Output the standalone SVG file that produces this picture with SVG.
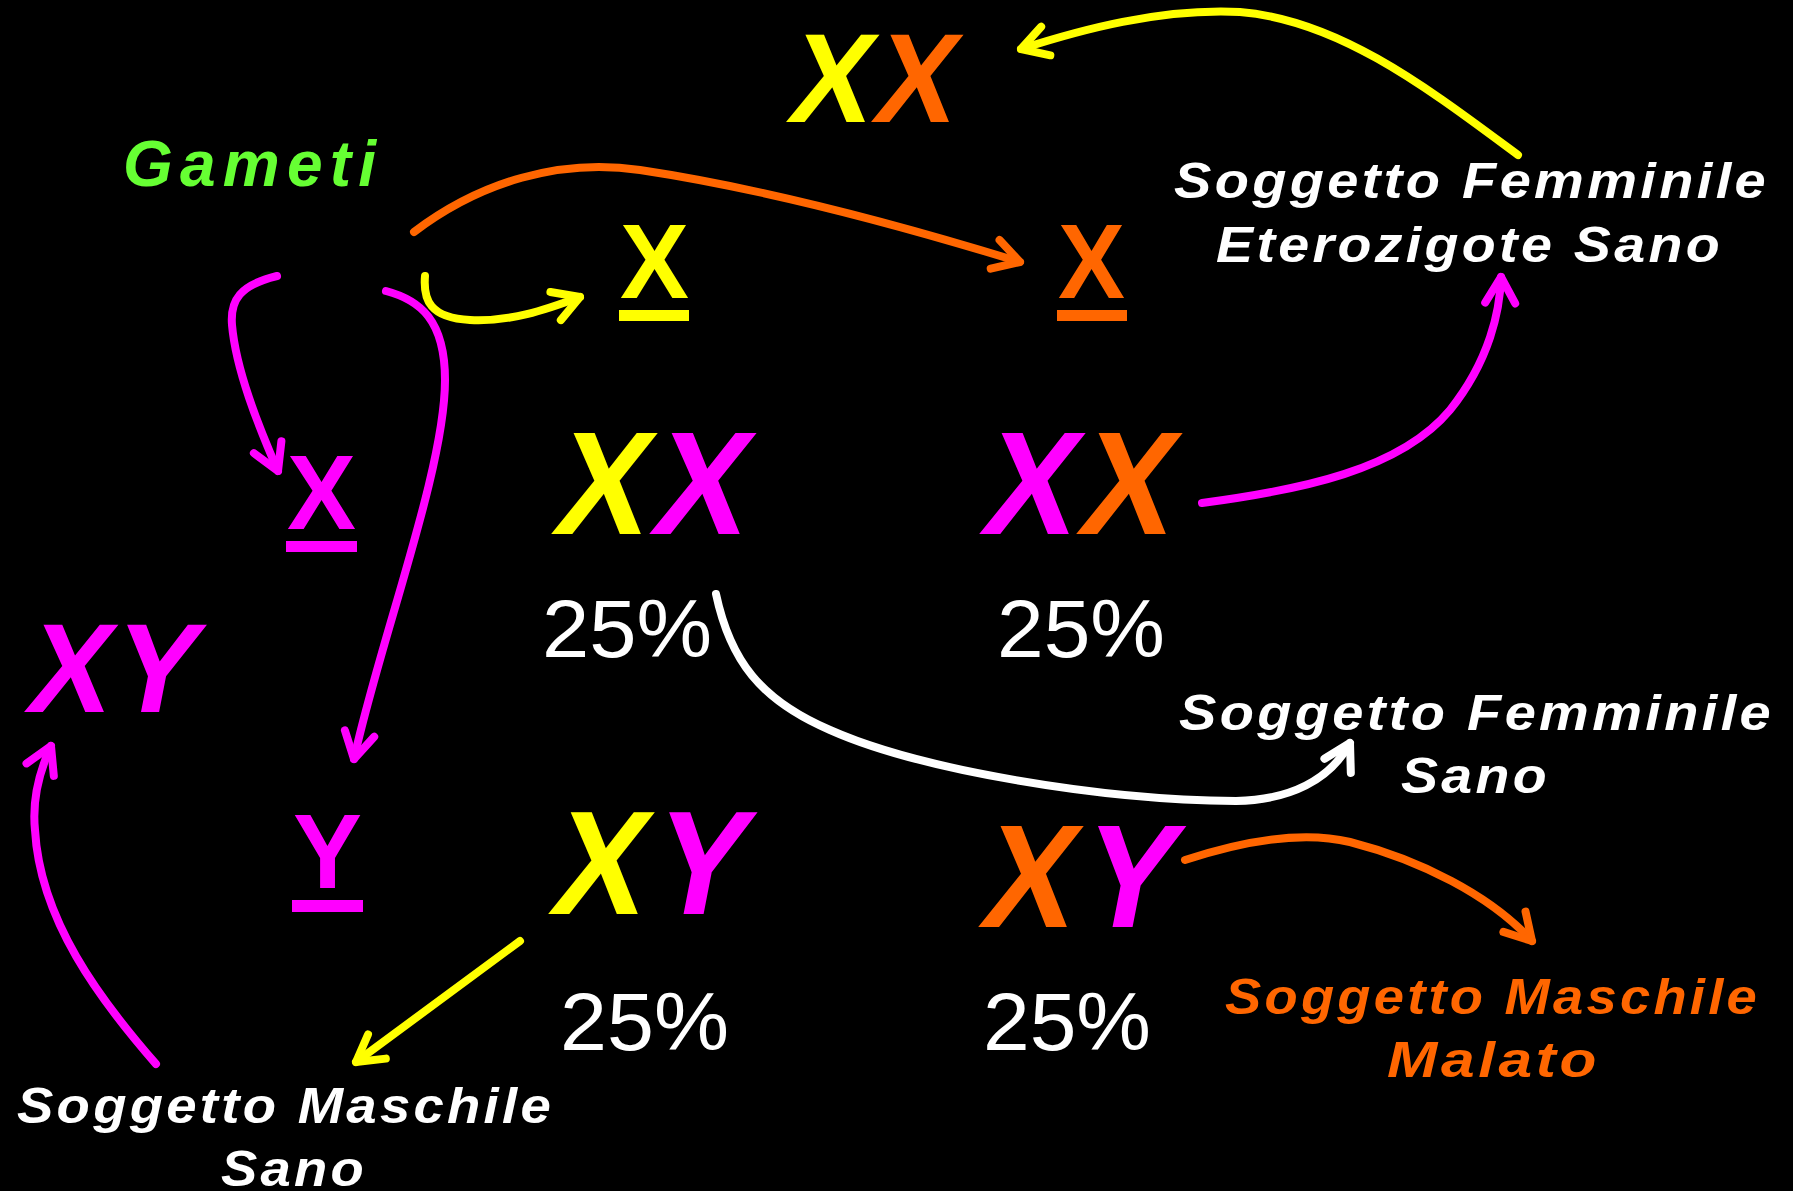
<svg xmlns="http://www.w3.org/2000/svg" width="1793" height="1191" viewBox="0 0 1793 1191">
<style>
.big{font-family:"Liberation Sans",Arial,sans-serif;font-weight:bold}
.lbl{font-family:"Liberation Sans",Arial,sans-serif;font-style:italic;font-weight:bold;font-size:50px;letter-spacing:3px}
.pct{font-family:"Liberation Sans",Arial,sans-serif;font-size:82px;fill:#fff}
.y{fill:#ffff00}.o{fill:#ff6600}.m{fill:#ff00ff}.w{fill:#ffffff}
.c{fill:none;stroke-width:8;stroke-linecap:round;stroke-linejoin:round}
</style>
<defs>
<marker id="aY" markerUnits="userSpaceOnUse" markerWidth="40" markerHeight="40" refX="28" refY="16" orient="auto" overflow="visible"><path d="M2,1 L28,16 L2,31" fill="none" stroke="#ffff00" stroke-width="8" stroke-linecap="round" stroke-linejoin="round"/></marker>
<marker id="aO" markerUnits="userSpaceOnUse" markerWidth="40" markerHeight="40" refX="28" refY="16" orient="auto" overflow="visible"><path d="M2,1 L28,16 L2,31" fill="none" stroke="#ff6600" stroke-width="8" stroke-linecap="round" stroke-linejoin="round"/></marker>
<marker id="aM" markerUnits="userSpaceOnUse" markerWidth="40" markerHeight="40" refX="28" refY="16" orient="auto" overflow="visible"><path d="M2,1 L28,16 L2,31" fill="none" stroke="#ff00ff" stroke-width="8" stroke-linecap="round" stroke-linejoin="round"/></marker>
<marker id="aW" markerUnits="userSpaceOnUse" markerWidth="40" markerHeight="40" refX="28" refY="16" orient="auto" overflow="visible"><path d="M2,1 L28,16 L2,31" fill="none" stroke="#ffffff" stroke-width="8" stroke-linecap="round" stroke-linejoin="round"/></marker>
</defs>
<rect x="0" y="0" width="1793" height="1191" fill="#000"/>

<g id="connectors">
<path class="c" stroke="#ff6600" marker-end="url(#aO)" d="M414,232 C480,182 560,158 640,170 C760,188 900,225 1020,262"/>
<path class="c" stroke="#ffff00" marker-end="url(#aY)" d="M425,276 C423,300 430,318 470,320 C510,322 545,310 580,297"/>
<path class="c" stroke="#ff00ff" marker-end="url(#aM)" d="M277,276 C240,285 230,300 232,325 C236,370 258,425 278,471"/>
<path class="c" stroke="#ff00ff" marker-end="url(#aM)" d="M386,291 C420,300 445,320 445,380 C445,470 380,640 354,759"/>
<path class="c" stroke="#ffff00" marker-end="url(#aY)" d="M1518,155 C1430,90 1340,20 1240,12 C1160,8 1080,30 1021,49"/>
<path class="c" stroke="#ff00ff" marker-end="url(#aM)" d="M1202,503 C1300,490 1400,470 1450,410 C1490,360 1500,310 1501,277"/>
<path class="c" stroke="#ff00ff" marker-end="url(#aM)" d="M156,1064 C100,1000 40,920 35,830 C32,800 40,770 51,746"/>
<path class="c" stroke="#ffffff" marker-end="url(#aW)" d="M716,594 C730,660 760,700 830,730 C920,770 1100,800 1236,801 C1290,800 1330,780 1350,743"/>
<path class="c" stroke="#ffff00" marker-end="url(#aY)" d="M520,941 L356,1062"/>
<path class="c" stroke="#ff6600" marker-end="url(#aO)" d="M1185,860 C1240,842 1300,830 1350,842 C1420,860 1490,895 1532,941"/>
</g>

<g id="parent-female">
<text class="big y" transform="translate(785,122) skewX(-11)" font-size="127" textLength="81" lengthAdjust="spacingAndGlyphs">X</text>
<text class="big o" transform="translate(870,122) skewX(-11)" font-size="127" textLength="80" lengthAdjust="spacingAndGlyphs">X</text>
</g>
<g id="parent-male">
<text class="big m" transform="translate(23,712) skewX(-11)" font-size="127" textLength="82" lengthAdjust="spacingAndGlyphs">X</text>
<text class="big m" transform="translate(108,712) skewX(-11)" font-size="127" textLength="84" lengthAdjust="spacingAndGlyphs">Y</text>
</g>

<g id="gameti">
<text x="123" y="186" font-family="Liberation Sans, Arial, sans-serif" font-style="italic" font-weight="bold" font-size="64" fill="#66ff33" textLength="253">Gameti</text>
</g>

<g id="gamete-x-yellow">
<text class="big y" x="620" y="298" font-size="106" textLength="69" lengthAdjust="spacingAndGlyphs">X</text>
<rect class="y" x="619" y="310" width="70" height="11"/>
</g>
<g id="gamete-x-orange">
<text class="big o" x="1058" y="298" font-size="106" textLength="67" lengthAdjust="spacingAndGlyphs">X</text>
<rect class="o" x="1057" y="310" width="70" height="11"/>
</g>
<g id="gamete-x-magenta">
<text class="big m" x="287" y="529" font-size="106" textLength="69" lengthAdjust="spacingAndGlyphs">X</text>
<rect class="m" x="286" y="541" width="71" height="11"/>
</g>
<g id="gamete-y-magenta">
<text class="big m" x="293" y="888" font-size="106" textLength="69" lengthAdjust="spacingAndGlyphs">Y</text>
<rect class="m" x="292" y="900" width="71" height="12"/>
</g>

<g id="child-xx-1">
<text class="big y" transform="translate(550,534) skewX(-11)" font-size="147" textLength="92" lengthAdjust="spacingAndGlyphs">X</text>
<text class="big m" transform="translate(648,534) skewX(-11)" font-size="147" textLength="93" lengthAdjust="spacingAndGlyphs">X</text>
<text class="pct" x="542" y="657" textLength="170" lengthAdjust="spacingAndGlyphs">25%</text>
</g>
<g id="child-xx-2">
<text class="big m" transform="translate(978,534) skewX(-11)" font-size="147" textLength="92" lengthAdjust="spacingAndGlyphs">X</text>
<text class="big o" transform="translate(1075,534) skewX(-11)" font-size="147" textLength="92" lengthAdjust="spacingAndGlyphs">X</text>
<text class="pct" x="997" y="657" textLength="168" lengthAdjust="spacingAndGlyphs">25%</text>
</g>
<g id="child-xy-1">
<text class="big y" transform="translate(547,914) skewX(-11)" font-size="148" textLength="92" lengthAdjust="spacingAndGlyphs">X</text>
<text class="big m" transform="translate(647,914) skewX(-11)" font-size="148" textLength="93" lengthAdjust="spacingAndGlyphs">Y</text>
<text class="pct" x="560" y="1050" textLength="169" lengthAdjust="spacingAndGlyphs">25%</text>
</g>
<g id="child-xy-2">
<text class="big o" transform="translate(977,927) skewX(-11)" font-size="147" textLength="91" lengthAdjust="spacingAndGlyphs">X</text>
<text class="big m" transform="translate(1076,927) skewX(-11)" font-size="147" textLength="93" lengthAdjust="spacingAndGlyphs">Y</text>
<text class="pct" x="983" y="1050" textLength="168" lengthAdjust="spacingAndGlyphs">25%</text>
</g>

<g id="label-femminile-eterozigote">
<text class="lbl w" x="1174" y="198" textLength="595" lengthAdjust="spacingAndGlyphs">Soggetto Femminile</text>
<text class="lbl w" x="1216" y="262" textLength="507" lengthAdjust="spacingAndGlyphs">Eterozigote Sano</text>
</g>
<g id="label-femminile-sano">
<text class="lbl w" x="1179" y="730" textLength="595" lengthAdjust="spacingAndGlyphs">Soggetto Femminile</text>
<text class="lbl w" x="1401" y="793" textLength="149" lengthAdjust="spacingAndGlyphs">Sano</text>
</g>
<g id="label-maschile-sano">
<text class="lbl w" x="17" y="1123" textLength="537" lengthAdjust="spacingAndGlyphs">Soggetto Maschile</text>
<text class="lbl w" x="221" y="1186" textLength="146" lengthAdjust="spacingAndGlyphs">Sano</text>
</g>
<g id="label-maschile-malato">
<text class="lbl o" x="1225" y="1014" textLength="535" lengthAdjust="spacingAndGlyphs">Soggetto Maschile</text>
<text class="lbl o" x="1387" y="1077" textLength="213" lengthAdjust="spacingAndGlyphs">Malato</text>
</g>
</svg>
